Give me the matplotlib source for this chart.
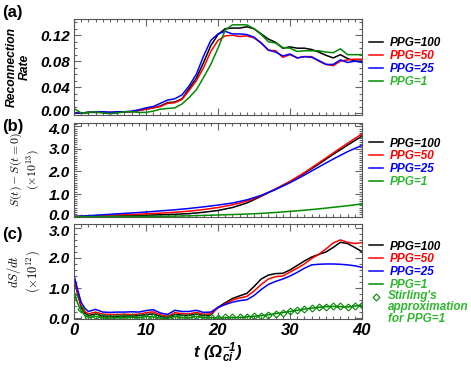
import matplotlib
matplotlib.use("Agg")
import matplotlib.pyplot as plt
from matplotlib.ticker import MultipleLocator
from matplotlib.transforms import ScaledTranslation

plt.rcParams['font.family'] = ['Liberation Sans', 'DejaVu Sans']
plt.rcParams['mathtext.fontset'] = 'custom'
plt.rcParams['mathtext.rm'] = 'Liberation Sans:italic:bold'
plt.rcParams['mathtext.it'] = 'Liberation Sans:italic:bold'
plt.rcParams['mathtext.bf'] = 'Liberation Sans:italic:bold'

labels = ["PPG=100", "PPG=50", "PPG=25", "PPG=1"]
line_colors = ["black", "red", "blue", "#008a00"]
text_colors = ["black", "red", "blue", "#2db82d"]

# (a) reconnection rate, t = 0..40
t_a = list(range(0, 41))
rate_100 = [0.000, 0.000, 0.001, 0.001, 0.001, 0.001, 0.001, 0.002, 0.002, 0.004,
            0.006, 0.008, 0.011, 0.016, 0.017, 0.022, 0.038, 0.054, 0.078, 0.104,
            0.121, 0.130, 0.131, 0.131, 0.133, 0.130, 0.122, 0.114, 0.109, 0.100,
            0.102, 0.100, 0.100, 0.098, 0.094, 0.089, 0.085, 0.090, 0.084, 0.080, 0.080]
rate_50 = [0.000, 0.000, 0.001, 0.002, 0.001, 0.001, 0.001, 0.002, 0.002, 0.004,
           0.006, 0.008, 0.010, 0.015, 0.016, 0.021, 0.035, 0.050, 0.070, 0.095,
           0.112, 0.119, 0.120, 0.118, 0.119, 0.116, 0.108, 0.097, 0.096, 0.086,
           0.090, 0.085, 0.087, 0.087, 0.080, 0.075, 0.073, 0.080, 0.082, 0.083, 0.083]
rate_25 = [0.000, 0.000, 0.001, 0.002, 0.002, 0.001, 0.002, 0.002, 0.003, 0.005,
           0.008, 0.010, 0.015, 0.020, 0.022, 0.028, 0.042, 0.060, 0.088, 0.112,
           0.122, 0.126, 0.122, 0.122, 0.121, 0.117, 0.108, 0.097, 0.094, 0.088,
           0.091, 0.085, 0.087, 0.086, 0.081, 0.075, 0.075, 0.082, 0.078, 0.080, 0.078]
rate_1 = [0.007, 0.000, 0.001, 0.002, 0.000, -0.001, 0.000, 0.002, 0.002, 0.001,
          0.001, 0.003, 0.006, 0.007, 0.008, 0.014, 0.024, 0.036, 0.055, 0.075,
          0.100, 0.128, 0.136, 0.136, 0.136, 0.130, 0.121, 0.110, 0.108, 0.101,
          0.100, 0.095, 0.096, 0.096, 0.096, 0.094, 0.093, 0.099, 0.090, 0.090, 0.090]

# (b) S(t) - S(0) in 1e13, t = 0..40 step 2
t_b = list(range(0, 41, 2))
ds_100 = [0, 0.01, 0.02, 0.03, 0.04, 0.06, 0.08, 0.10, 0.13, 0.19, 0.27,
          0.40, 0.60, 0.90, 1.22, 1.55, 1.92, 2.33, 2.76, 3.17, 3.57]
ds_50 = [0, 0.02, 0.04, 0.07, 0.09, 0.12, 0.15, 0.19, 0.24, 0.31, 0.40,
         0.52, 0.68, 0.92, 1.22, 1.56, 1.95, 2.38, 2.82, 3.25, 3.67]
ds_25 = [0, 0.04, 0.08, 0.12, 0.16, 0.20, 0.25, 0.30, 0.36, 0.43, 0.51,
         0.60, 0.74, 0.94, 1.20, 1.50, 1.84, 2.20, 2.55, 2.88, 3.16]
ds_1 = [0, 0.00, 0.00, 0.01, 0.01, 0.01, 0.01, 0.02, 0.03, 0.05, 0.07,
        0.09, 0.11, 0.14, 0.18, 0.23, 0.28, 0.34, 0.41, 0.48, 0.56]

# (c) dS/dt in 1e12
t_c = [0, 0.5, 1, 1.5, 2] + list(range(3, 41))
dsdt_100 = [1.30, 0.80, 0.36, 0.17, 0.08, 0.14, 0.07, 0.06, 0.06, 0.07, 0.07, 0.08,
            0.12, 0.14, 0.06, 0.02, 0.12, 0.10, 0.09, 0.14, 0.08, 0.10, 0.36, 0.51,
            0.65, 0.74, 0.82, 1.05, 1.30, 1.43, 1.48, 1.49, 1.60, 1.75, 1.90, 2.03,
            2.12, 2.20, 2.35, 2.52, 2.48, 2.35, 2.21]
dsdt_50 = [1.35, 0.85, 0.42, 0.22, 0.14, 0.20, 0.13, 0.12, 0.12, 0.13, 0.12, 0.13,
           0.18, 0.21, 0.11, 0.06, 0.18, 0.15, 0.14, 0.19, 0.13, 0.14, 0.34, 0.47,
           0.60, 0.67, 0.72, 0.90, 1.12, 1.30, 1.38, 1.40, 1.53, 1.66, 1.80, 1.98,
           2.12, 2.30, 2.50, 2.60, 2.52, 2.48, 2.51]
dsdt_25 = [1.43, 0.95, 0.52, 0.33, 0.22, 0.29, 0.20, 0.19, 0.20, 0.20, 0.21, 0.20,
           0.25, 0.28, 0.17, 0.12, 0.26, 0.22, 0.22, 0.26, 0.19, 0.20, 0.36, 0.45,
           0.53, 0.58, 0.61, 0.75, 0.95, 1.12, 1.22, 1.30, 1.40, 1.52, 1.66, 1.77,
           1.79, 1.80, 1.80, 1.79, 1.77, 1.74, 1.69]
dsdt_1 = [0.85, 0.50, 0.25, 0.08, 0.02, 0.06, 0.01, 0.00, 0.02, 0.01, 0.03, 0.01,
          0.05, 0.04, 0.00, -0.01, 0.05, 0.02, 0.01, 0.06, 0.01, 0.02, 0.00, 0.01,
          0.02, 0.02, 0.04, 0.06, 0.08, 0.11, 0.15, 0.18, 0.22, 0.26, 0.30, 0.33,
          0.36, 0.38, 0.39, 0.38, 0.37, 0.40, 0.43]
t_st = list(range(0, 41))
stirling = [0.75, 0.30, 0.05, 0.06, 0.02, 0.01, 0.03, 0.02, 0.03, 0.02, 0.05, 0.04,
            0.01, 0.00, 0.05, 0.03, 0.02, 0.06, 0.02, 0.03, 0.01, 0.02, 0.02, 0.03,
            0.04, 0.06, 0.08, 0.11, 0.15, 0.18, 0.22, 0.26, 0.30, 0.33, 0.36, 0.38,
            0.40, 0.39, 0.38, 0.40, 0.43]

fig = plt.figure(figsize=(4.71, 3.68), dpi=100)
L, W = 74 / 471, 288 / 471
ax_a = fig.add_axes([L, 1 - 115 / 368, W, 96 / 368])
ax_b = fig.add_axes([L, 1 - 217 / 368, W, 94 / 368])
ax_c = fig.add_axes([L, 1 - 319 / 368, W, 95 / 368])

tick_font = dict(fontsize=11, fontweight='bold', fontstyle='italic')

for ax in (ax_a, ax_b, ax_c):
    ax.set_xlim(0, 40)
    ax.xaxis.set_major_locator(MultipleLocator(10))
    ax.xaxis.set_minor_locator(MultipleLocator(1))
    ax.tick_params(which='both', direction='in', top=True, right=True,
                   color='#666666', width=0.8, pad=3)
    ax.tick_params(which='major', length=5)
    ax.tick_params(which='minor', length=2.5)
    for s in ax.spines.values():
        s.set_color('#555555')
        s.set_linewidth(0.8)

series_a = [rate_100, rate_50, rate_25, rate_1]
for y, c, lab in zip(series_a, line_colors, labels):
    ax_a.plot(t_a, y, color=c, lw=1.1, label=lab)
ax_a.set_ylim(-0.003, 0.145)
ax_a.set_yticks([0, 0.04, 0.08, 0.12])
ax_a.yaxis.set_minor_locator(MultipleLocator(0.01))
ax_a.set_yticklabels(['0.00', '0.04', '0.08', '0.12'], **tick_font)
ax_a.set_xticklabels([])
ax_a.set_ylabel('Reconnection\nRate', fontsize=8.7, fontweight='bold',
                fontstyle='italic', linespacing=1.05, labelpad=7)

series_b = [ds_100, ds_50, ds_25, ds_1]
for y, c, lab in zip(series_b, line_colors, labels):
    ax_b.plot(t_b, y, color=c, lw=1.1, label=lab)
ax_b.set_ylim(-0.02, 4.15)
ax_b.set_yticks([0, 1, 2, 3, 4])
ax_b.yaxis.set_minor_locator(MultipleLocator(0.1))
ax_b.set_yticklabels(['0.0', '1.0', '2.0', '3.0', '4.0'], **tick_font)
ax_b.set_xticklabels([])
ax_b.set_ylabel('$S(t) - S(t=0)$\n$(\\times 10^{13})$', fontsize=8.5,
                math_fontfamily='cm', linespacing=1.05, labelpad=5)

series_c = [dsdt_100, dsdt_50, dsdt_25, dsdt_1]
for y, c, lab in zip(series_c, line_colors, labels):
    ax_c.plot(t_c, y, color=c, lw=1.1, label=lab)
ax_c.plot(t_st, stirling, ls='none', marker='D', ms=3.5, mfc='none',
          mec=line_colors[3], mew=0.8, label=' ')
ax_c.set_ylim(-0.03, 3.13)
ax_c.set_yticks([0, 1, 2, 3])
ax_c.yaxis.set_minor_locator(MultipleLocator(0.2))
ax_c.set_yticklabels(['0.0', '1.0', '2.0', '3.0'], **tick_font)
ax_c.set_xticks([0, 10, 20, 30, 40])
ax_c.set_xticklabels(['0', '10', '20', '30', '40'], fontsize=12,
                     fontweight='bold', fontstyle='italic')
ax_c.set_ylabel('$dS/dt$\n$(\\times 10^{12})$', fontsize=9,
                math_fontfamily='cm', linespacing=1.05, labelpad=5)
ax_c.set_xlabel('$t\\ (\\Omega_{ci}^{-1})$', fontsize=12, labelpad=2)

# nudge the labels at the panel joins apart so they do not collide
def nudge(label, dy_px):
    label.set_transform(label.get_transform() +
                        ScaledTranslation(0, dy_px / 100, fig.dpi_scale_trans))

nudge(ax_a.get_yticklabels()[0], 2.5)
nudge(ax_b.get_yticklabels()[-1], -2.5)
nudge(ax_b.get_yticklabels()[0], 2.5)
nudge(ax_c.get_yticklabels()[-1], -2.5)

leg_font = dict(size=8.5, weight='bold', style='italic')
for ax, top in ((ax_a, 37.5), (ax_b, 137.5), (ax_c, 240.5)):
    leg = ax.legend(loc='upper left', bbox_to_anchor=(369 / 471, 1 - top / 368),
                    bbox_transform=fig.transFigure, frameon=False, prop=leg_font,
                    borderpad=0, borderaxespad=0, handlelength=1.2,
                    handletextpad=0.55, labelspacing=0.08)
    for txt, col in zip(leg.get_texts(), text_colors):
        txt.set_color(col)

# the diamond handle above sits on the first line of this text
fig.text(388 / 471, 1 - 290 / 368, "Stirling's\napproximation\nfor PPG=1",
         color=text_colors[3], fontsize=8.5, fontweight='bold', fontstyle='italic',
         va='top', linespacing=0.92)

fig.text(2 / 471, 1 - 13 / 368, '(a)', fontsize=12, fontweight='bold', va='center')
fig.text(2 / 471, 1 - 127 / 368, '(b)', fontsize=12, fontweight='bold', va='center')
fig.text(2 / 471, 1 - 234 / 368, '(c)', fontsize=12, fontweight='bold', va='center')

fig.savefig('out.png', dpi=100)
